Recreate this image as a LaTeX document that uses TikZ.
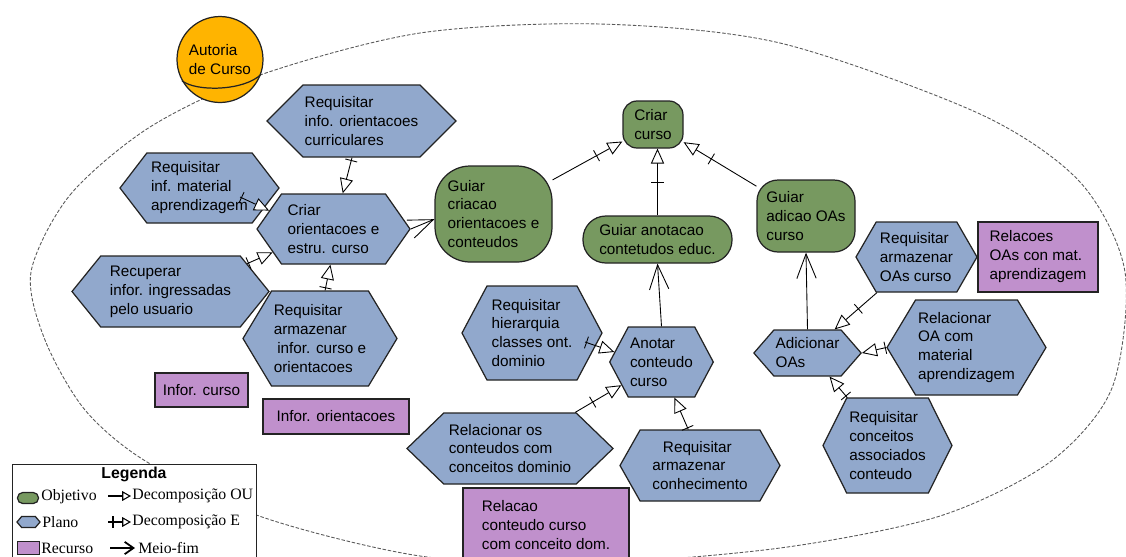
\documentclass[tikz,border=0pt]{standalone}
\usepackage{fontspec}
\setmainfont{Liberation Sans}
\newfontfamily\legfont{Liberation Serif}
\usetikzlibrary{shapes.symbols, arrows.meta, decorations.markings}

\definecolor{objcolor}{RGB}{119,153,96}
\definecolor{plancolor}{RGB}{145,168,204}
\definecolor{reccolor}{RGB}{192,144,204}
\definecolor{atorcolor}{RGB}{255,180,0}
\definecolor{bordcolor}{RGB}{35,35,35}

\tikzset{
	dims/.style 2 args={minimum width=#1*0.02cm, minimum height=#2*0.02cm},
	txt/.style={font=\fontsize{8.7}{10.8}\selectfont, text=black},
	plano/.style={txt, signal, signal to=west and east, signal pointer angle=#1,
		draw=bordcolor, line width=0.7pt, fill=plancolor, align=left, inner sep=1pt},
	plano/.default=110,
	objetivo/.style={txt, rectangle, rounded corners=#1, draw=bordcolor,
		line width=0.7pt, fill=objcolor, align=left, inner sep=1pt},
	objetivo/.default=12pt,
	recurso/.style={txt, rectangle, draw=bordcolor, line width=0.7pt,
		fill=reccolor, align=left, inner sep=1pt},
	ator/.style={txt, circle, draw=bordcolor, line width=0.7pt, fill=atorcolor,
		minimum size=1.72cm, align=left, inner sep=0pt},
	fronteira/.style={draw=black!65, line width=0.5pt, dash pattern=on 2pt off 1pt},
	decomp/.style={line width=0.5pt, -{Triangle[fill=white, length=8.5pt, width=7.5pt]},
		postaction={decorate}, decoration={markings,
			mark=at position #1 with {\draw[-, line width=0.5pt] (0,-3.5pt) -- (0,3.5pt);}}},
	decomp/.default=0.08,
	meiofim/.style={line width=0.5pt, -{Straight Barb[length=14pt, width=11pt]}},
	legtxt/.style={anchor=west, inner sep=0pt, font=\legfont\fontsize{9}{10}\selectfont},
}

\begin{document}
\begin{tikzpicture}[x=0.02cm, y=-0.02cm]
	\useasboundingbox (0,0) rectangle (1126,556);
	% Actor boundary
	\draw[fronteira] plot[smooth cycle] coordinates {(31,272) (70,195) (150,127) (260,75)
		(420,33) (600,24) (780,43) (980,114) (1080,182) (1125,272) (1112,388) (1050,462)
		(940,516) (780,548) (580,564) (420,556) (262,517) (147,462) (85,410) (45,340)};
	\node[ator] (autoria) at (220,59.5) {Autoria\\de Curso};
	\draw[line width=0.7pt, bordcolor] (autoria.209) .. controls (196,92) and (244,91) .. (autoria.-20);

	% Goals
	\node[objetivo=20pt, dims={117}{96}] (G1) at (493.5,214) {Guiar\\criacao\\orientacoes e\\conteudos};
	\node[objetivo=8pt, dims={60}{47}] (G2) at (653,124.5) {Criar\\curso};
	\node[objetivo=13pt, dims={149}{47}] (G3) at (657.5,239.5) {Guiar anotacao\\contetudos educ.};
	\node[objetivo=12pt, dims={98}{72}] (G4) at (806,216) {Guiar\\adicao OAs\\curso};

	% Plans
	\node[plano=90, dims={187}{72}] (P1) at (361.5,121) {Requisitar\\info. orientacoes\\curriculares};
	\node[plano=105, dims={159}{70}] (P2) at (199.5,188) {Requisitar\\inf. material\\aprendizagem};
	\node[plano=110, dims={153}{70}] (P3) at (333.5,229) {Criar\\orientacoes e\\estru. curso};
	\node[plano=102, dims={197}{71}] (P4) at (170.5,291.5) {Recuperar\\infor. ingressadas\\pelo usuario};
	\node[plano=118, dims={154}{95}] (P5) at (320,338.5) {Requisitar\\armazenar\\\hspace*{2pt}infor. curso e\\orientacoes};
	\node[plano=124, dims={140}{94}] (P6) at (532,333) {Requisitar\\hierarquia\\classes ont.\\dominio};
	\node[plano=124, dims={103}{70}] (P7) at (661.5,362) {Anotar\\conteudo\\curso};
	\node[plano=88, dims={206}{71}] (P8) at (510,448.5) {Relacionar os\\conteudos com\\conceitos dominio};
	\node[plano=121, dims={160}{71}] (P9) at (700,465.5) {\hspace*{6pt}Requisitar\\armazenar\\conhecimento};
	\node[plano=120, dims={121}{70}] (P10) at (916.5,257) {Requisitar\\armazenar\\OAs curso};
	\node[plano=98, dims={103}{46}] (P11) at (807.5,353) {Adicionar\\OAs};
	\node[plano=118, dims={159}{95}] (P12) at (966.5,347.5) {Relacionar\\OA com\\material\\aprendizagem};
	\node[plano=127, dims={129}{95}] (P13) at (887.5,445.5) {Requisitar\\conceitos\\associados\\conteudo};

	% Resources
	\node[recurso, dims={93}{34}] (R1) at (201.5,390) {Infor. curso};
	\node[recurso, dims={146}{35}] (R2) at (336,416.5) {Infor. orientacoes};
	\node[recurso, dims={166}{74}] (R3) at (546,525) {Relacao\\conteudo curso\\com conceito dom.};
	\node[recurso, dims={120}{70}] (R4) at (1038,257) {Relacoes\\OAs con mat.\\aprendizagem};

	% Decompositions
	\coordinate (P2out) at (240,197);
	\coordinate (P6out) at (585,342);
	\draw[decomp] (P1) -- (P3);
	\draw[decomp=0.05] (P2out) -- (P3.164);
	\draw[decomp=0.05] (P4.20) -- (P3.201);
	\draw[decomp=0.1] (P5.84) -- (P3.-95);
	\draw[decomp=0.63] (G1.30) -- (G2.209);
	\draw[decomp=0.5] (G3) -- (G3 |- G2.south);
	\draw[decomp=0.62] (G4.149) -- (G2.-30);
	\draw[decomp=0.05] (P6out) -- (P7.168);
	\draw[decomp=0.38] (P8.29) -- (P7.210);
	\draw[decomp=0.05] (P9.108) -- (P7.-70);
	\draw[decomp=0.44] (P10.222) -- (P11.41);
	\draw[decomp=0.04] (P12.west) -- (P11.east);
	\draw[decomp=0.08] (P13.130) -- (P11.-47);

	% Means-end
	\draw[meiofim] (P3.east) -- (G1.185);
	\draw[meiofim] (P7.north) -- (G3.south);
	\draw[meiofim] (P11.north) -- (G4.south);

	% Legend
	\node[draw=bordcolor, line width=0.7pt, fill=white, anchor=north west, dims={244}{112}] (legenda) at (12,464) {};
	\node[font=\bfseries\fontsize{9}{10}\selectfont] (legtitle) at (134,474) {Legenda};
	\node[objetivo=3pt, dims={21}{11}, inner sep=0pt] (legobj) at (28,498) {};
	\node[plano=100, dims={23}{11}, inner sep=0pt] (legplan) at (28.5,522) {};
	\node[recurso, dims={22}{13}, inner sep=0pt] (legrec) at (28.5,548) {};
	\node[legtxt] (legobjtxt) at (41,497) {Objetivo};
	\node[legtxt] (legplantxt) at (42,522) {Plano};
	\node[legtxt] (legrectxt) at (41,548) {Recurso};
	\coordinate (ou1) at (108,496);
	\coordinate (ou2) at (131,496);
	\coordinate (e1) at (108,522);
	\coordinate (e2) at (131,522);
	\coordinate (mf1) at (110,548);
	\coordinate (mf2) at (135,548);
	\draw[line width=1pt, -{Triangle[fill=white, length=5pt, width=5.5pt, line width=0.6pt]}] (ou1) -- (ou2);
	\draw[line width=1pt, -{Triangle[fill=white, length=5pt, width=5.5pt, line width=0.6pt]}] (e1) -- (e2);
	\draw[line width=0.8pt] ([xshift=5*0.02cm]e1) ++(0,-6) -- ++(0,12);
	\draw[line width=1pt, -{Straight Barb[length=5pt, width=7pt]}] (mf1) -- (mf2);
	\node[legtxt] (legoutxt) at (132,496) {Decomposição OU};
	\node[legtxt] (legetxt) at (132,522) {Decomposição E};
	\node[legtxt] (legmftxt) at (138,548) {Meio-fim};
\end{tikzpicture}
\end{document}
